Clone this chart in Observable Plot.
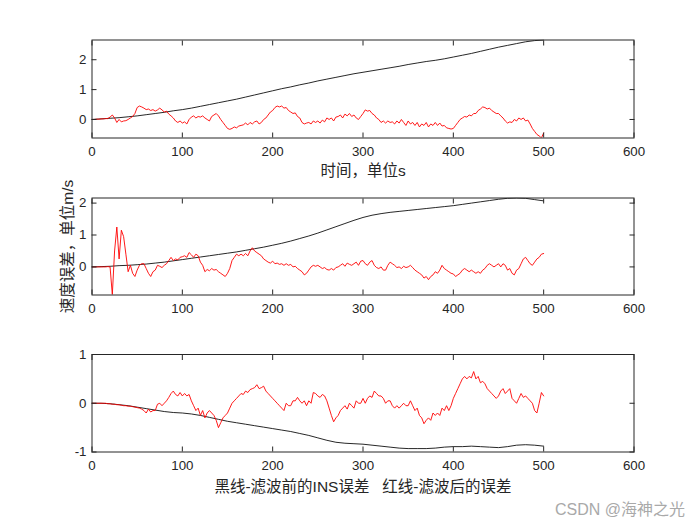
<!DOCTYPE html>
<html><head><meta charset="utf-8">
<script src="https://cdn.jsdelivr.net/npm/d3@7"></script>
<script src="https://cdn.jsdelivr.net/npm/@observablehq/plot@0.6"></script>
<style>
body{margin:0;background:#fff;}
#chart{position:relative;width:700px;height:525px;overflow:hidden;background:#fff;}
#chart svg{position:absolute;left:0;}
#wm{position:absolute;left:555px;top:496px;font:16px "Liberation Sans","Noto Sans CJK SC",sans-serif;color:#a9a9a9;white-space:nowrap;}
</style></head><body>
<div id="chart"><div id="wm">CSDN @海神之光</div></div>
<script>
// sample times (s)
const tRed = d3.range(0, 500.001, 2.5);
const tBlack = d3.range(0, 500.001, 10);
const xTicks = [0, 100, 200, 300, 400, 500, 600];

// Panel 1
const red1 = [
 0, 0, 0.01, 0.01, 0.02, 0.02, 0.03, 0.03, 0.08, 0.15,
 0.05, -0.1, 0.0, -0.08, -0.05, -0.04, 0.0, 0.05, 0.1, 0.2,
 0.4, 0.45, 0.42, 0.38, 0.33, 0.35, 0.3, 0.33, 0.28, 0.32,
 0.38, 0.32, 0.25, 0.28, 0.18, 0.12, 0.05, -0.05, -0.1, -0.05,
 -0.12, -0.08, -0.15, 0.0, 0.08, 0.12, 0.05, 0.1, 0.08, 0.12,
 0.05, 0.0, -0.05, 0.1, 0.15, 0.2, 0.12, 0.0, -0.1, -0.2,
 -0.3, -0.33, -0.3, -0.25, -0.28, -0.22, -0.2, -0.18, -0.12, -0.18,
 -0.1, -0.15, -0.08, -0.05, -0.15, -0.1, 0.0, 0.05, 0.15, 0.25,
 0.3, 0.4, 0.45, 0.42, 0.45, 0.38, 0.4, 0.3, 0.25, 0.2,
 0.22, 0.1, 0.05, -0.1, -0.15, -0.12, -0.1, -0.15, -0.05, -0.1,
 -0.05, -0.12, -0.02, -0.08, 0.05, 0.0, 0.05, -0.05, 0.08, 0.1,
 0.15, 0.05, 0.18, 0.12, 0.2, 0.1, 0.15, 0.05, 0.0, 0.1,
 0.2, 0.32, 0.28, 0.3, 0.2, 0.15, 0.05, 0.0, -0.1, -0.05,
 -0.12, -0.05, -0.1, -0.08, -0.15, -0.05, -0.12, 0.0, -0.1, -0.2,
 -0.05, -0.15, -0.1, -0.2, -0.1, -0.25, -0.15, -0.2, -0.1, -0.25,
 -0.15, -0.2, -0.1, -0.2, -0.12, -0.22, -0.2, -0.28, -0.3, -0.32,
 -0.3, -0.2, -0.1, 0.0, 0.05, 0.1, 0.08, 0.15, 0.12, 0.2,
 0.2, 0.3, 0.35, 0.42, 0.4, 0.35, 0.38, 0.3, 0.25, 0.2,
 0.2, 0.12, 0.05, -0.05, -0.12, -0.08, -0.1, 0.0, -0.05, 0.05,
 0.0, 0.05, -0.05, -0.02, -0.15, -0.3, -0.4, -0.5, -0.55, -0.62,
 -0.45
];
const black1 = [0, 0.02, 0.04, 0.06, 0.09, 0.12, 0.16, 0.2, 0.24, 0.29,
 0.33, 0.38, 0.44, 0.5, 0.56, 0.62, 0.68, 0.75, 0.82, 0.89,
 0.96, 1.03, 1.09, 1.16, 1.22, 1.29, 1.35, 1.41, 1.47, 1.53,
 1.58, 1.63, 1.68, 1.73, 1.78, 1.84, 1.89, 1.94, 1.98, 2.03,
 2.09, 2.15, 2.21, 2.28, 2.35, 2.42, 2.48, 2.54, 2.6, 2.64, 2.66];
const yDomain1 = [-0.62, 2.66];
const yTicks1 = [0, 1, 2];

// Panel 2
const red2 = [
 0, 0, 0, 0, 0, 0, 0, 0.01, 0.0, -0.87,
 0.5, 1.25, 0.25, 1.15, 0.95, 0.4, -0.15, 0.05, -0.2, -0.3,
 -0.1, 0.05, 0.1, 0.1, -0.05, -0.2, -0.3, -0.15, -0.1, 0.05,
 0.02, -0.02, 0.05, 0.1, 0.2, 0.3, 0.2, 0.25, 0.22, 0.3,
 0.32, 0.35, 0.3, 0.45, 0.38, 0.3, 0.4, 0.35, 0.15, 0.05,
 -0.15, -0.08, -0.12, -0.05, -0.1, -0.08, -0.15, -0.2, -0.25, -0.3,
 -0.2, -0.05, 0.2, 0.3, 0.4, 0.35, 0.4, 0.35, 0.42, 0.35,
 0.5, 0.6, 0.5, 0.45, 0.4, 0.35, 0.25, 0.2, 0.15, 0.12,
 0.18, 0.1, 0.12, 0.08, 0.1, 0.05, 0.1, 0.05, 0.08, 0.0,
 0.02, -0.05, -0.1, -0.15, -0.25, -0.2, -0.1, 0.0, 0.05, 0.02,
 0.05, 0.0, -0.05, -0.02, -0.08, -0.1, -0.05, -0.1, -0.02, 0.0,
 0.05, 0.1, 0.02, 0.12, 0.08, 0.05, 0.1, 0.15, 0.05, 0.18,
 0.2, 0.1, 0.05, 0.15, 0.2, 0.05, -0.02, -0.05, 0.0, -0.1,
 -0.1, 0.05, 0.15, 0.1, 0.05, -0.02, 0.0, -0.05, 0.02, -0.02,
 0.0, 0.05, -0.02, -0.1, -0.15, -0.2, -0.25, -0.35, -0.3, -0.4,
 -0.3, -0.25, -0.15, -0.2, -0.1, 0.05, -0.05, -0.1, -0.15, -0.2,
 -0.22, -0.3, -0.25, -0.2, -0.1, -0.05, -0.1, -0.15, -0.1, -0.15,
 -0.2, -0.15, -0.2, -0.1, -0.05, 0.05, 0.1, 0.05, 0.0, 0.05,
 0.1, 0.0, 0.1, 0.05, -0.1, -0.05, -0.2, -0.25, -0.1, -0.05,
 0.1, 0.25, 0.3, 0.2, 0.1, 0.05, 0.15, 0.25, 0.3, 0.4,
 0.42
];
const black2 = [0, 0.01, 0.02, 0.04, 0.05, 0.07, 0.09, 0.12, 0.15, 0.19,
 0.23, 0.27, 0.31, 0.35, 0.39, 0.43, 0.47, 0.52, 0.57, 0.62,
 0.68, 0.74, 0.81, 0.89, 0.97, 1.06, 1.16, 1.26, 1.36, 1.46,
 1.55, 1.62, 1.67, 1.71, 1.74, 1.77, 1.8, 1.83, 1.86, 1.89,
 1.92, 1.96, 2.0, 2.04, 2.08, 2.12, 2.15, 2.16, 2.15, 2.11, 2.07];
const yDomain2 = [-0.88, 2.16];
const yTicks2 = [0, 1, 2];

// Panel 3
const red3 = [
 0, 0, 0, 0, 0, 0, 0, -0.01, -0.01, -0.02,
 -0.02, -0.03, -0.03, -0.04, -0.05, -0.05, -0.06, -0.06, -0.07, -0.08,
 -0.09, -0.1, -0.12, -0.15, -0.2, -0.12, -0.18, -0.15, -0.15, -0.02,
 0.0, -0.05, 0.0, 0.05, 0.12, 0.2, 0.25, 0.18, 0.15, 0.22,
 0.15, 0.2, 0.15, 0.18, 0.05, -0.05, -0.15, -0.1, -0.25, -0.15,
 -0.3, -0.2, -0.15, -0.2, -0.25, -0.35, -0.5, -0.4, -0.3, -0.25,
 -0.2, -0.1, 0.0, 0.05, 0.1, 0.15, 0.2, 0.18, 0.25, 0.22,
 0.28, 0.3, 0.32, 0.38, 0.3, 0.32, 0.35, 0.25, 0.2, 0.15,
 0.1, 0.05, 0.0, -0.05, -0.1, -0.15, 0.0, -0.05, -0.05, 0.05,
 0.05, 0.12, 0.05, 0.0, 0.05, -0.05, 0.05, 0.0, 0.22, 0.2,
 0.15, 0.12, 0.18, 0.15, 0.05, -0.1, -0.25, -0.38, -0.3, -0.25,
 -0.15, -0.1, -0.05, -0.12, 0.0, -0.05, -0.1, 0.05, 0.0, 0.0,
 0.1, 0.0, 0.1, 0.15, 0.12, 0.25, 0.2, 0.15, 0.15, 0.1,
 0.0, 0.05, 0.05, -0.05, -0.1, -0.05, -0.1, -0.05, 0.0, -0.05,
 -0.05, 0.05, -0.05, -0.15, -0.1, -0.25, -0.3, -0.42, -0.35, -0.3,
 -0.35, -0.2, -0.25, -0.2, -0.25, -0.1, -0.15, -0.05, -0.15, -0.05,
 0.1, 0.2, 0.3, 0.4, 0.5, 0.55, 0.5, 0.55, 0.52, 0.65,
 0.5, 0.55, 0.42, 0.45, 0.4, 0.3, 0.25, 0.2, 0.15, 0.1,
 0.15, 0.25, 0.3, 0.2, 0.25, 0.3, 0.1, 0.05, 0.0, 0.1,
 0.2, 0.12, 0.15, 0.1, 0.05, 0.0, -0.15, -0.2, 0.0, 0.22,
 0.15
];
const black3 = [0, 0.0, -0.01, -0.03, -0.05, -0.08, -0.11, -0.14, -0.17, -0.19,
 -0.2, -0.22, -0.25, -0.29, -0.33, -0.37, -0.4, -0.43, -0.46, -0.49,
 -0.52, -0.55, -0.58, -0.62, -0.66, -0.71, -0.76, -0.8, -0.82, -0.83,
 -0.84, -0.86, -0.88, -0.9, -0.92, -0.93, -0.93, -0.93, -0.92, -0.9,
 -0.89, -0.89, -0.88, -0.89, -0.9, -0.91, -0.89, -0.86, -0.85, -0.86, -0.88];
const yDomain3 = [-1, 1];
const yTicks3 = [-1, 0, 1];

const xLabel1 = "时间，单位s";
const yLabel2 = "速度误差，单位m/s";
const xLabel3 = "黑线-滤波前的INS误差   红线-滤波后的误差";

const FONT = '"Liberation Sans", Arial, "Noto Sans CJK SC", sans-serif';
const INK = "#262626";
const LABEL = {fontSize: 15.5, fill: INK, textAnchor: "middle", lineAnchor: "middle"};

function panel({red, black, yDomain, yTicks, top, height, mTop, mBottom, extra}) {
  const redRows = tRed.map((t, i) => ({t, v: red[i]}));
  const blackRows = tBlack.map((t, i) => ({t, v: black[i]}));
  const svg = Plot.plot({
    width: 700, height,
    marginLeft: 91.5, marginRight: 66.5, marginTop: mTop, marginBottom: mBottom,
    x: {domain: [0, 600]},
    y: {domain: yDomain},
    style: {fontFamily: FONT, fontSize: "13.3px", color: INK, background: "transparent", overflow: "visible"},
    marks: [
      Plot.line(blackRows, {x: "t", y: "v", stroke: "black", strokeWidth: 0.85, clip: true}),
      Plot.line(redRows, {x: "t", y: "v", stroke: "#ff0000", strokeWidth: 0.9, clip: true}),
      Plot.frame({stroke: INK, strokeWidth: 1}),
      Plot.axisX(xTicks, {anchor: "bottom", tickSize: 5, dy: -5, fill: "none", stroke: INK, label: null}),
      Plot.axisX(xTicks, {anchor: "top", tickSize: 5, dy: 5, fill: "none", stroke: INK, label: null}),
      Plot.axisX(xTicks, {anchor: "bottom", tickSize: 0, tickPadding: 9, fill: INK, label: null, tickFormat: d => String(d)}),
      Plot.axisY(yTicks, {anchor: "left", tickSize: 5, dx: 5, fill: "none", stroke: INK, label: null}),
      Plot.axisY(yTicks, {anchor: "right", tickSize: 5, dx: -5, fill: "none", stroke: INK, label: null}),
      Plot.axisY(yTicks, {anchor: "left", tickSize: 0, tickPadding: 5.5, fill: INK, label: null, tickFormat: d => String(d)}),
      ...extra
    ]
  });
  svg.style.top = top + "px";
  document.getElementById("chart").appendChild(svg);
}

panel({red: red1, black: black1, yDomain: yDomain1, yTicks: yTicks1, top: 0, height: 182, mTop: 39.5, mBottom: 44.5,
  extra: [Plot.text([xLabel1], {text: d => d, frameAnchor: "bottom", dy: 33.5, ...LABEL})]});
panel({red: red2, black: black2, yDomain: yDomain2, yTicks: yTicks2, top: 182, height: 155, mTop: 15.5, mBottom: 42.5,
  extra: [Plot.text([yLabel2], {text: d => d, frameAnchor: "left", dx: -23.5, rotate: -90, ...LABEL})]});
panel({red: red3, black: black3, yDomain: yDomain3, yTicks: yTicks3, top: 337, height: 188, mTop: 17, mBottom: 73.5,
  extra: [Plot.text([xLabel3], {text: d => d, frameAnchor: "bottom", dy: 35, ...LABEL})]});
</script>
</body></html>
